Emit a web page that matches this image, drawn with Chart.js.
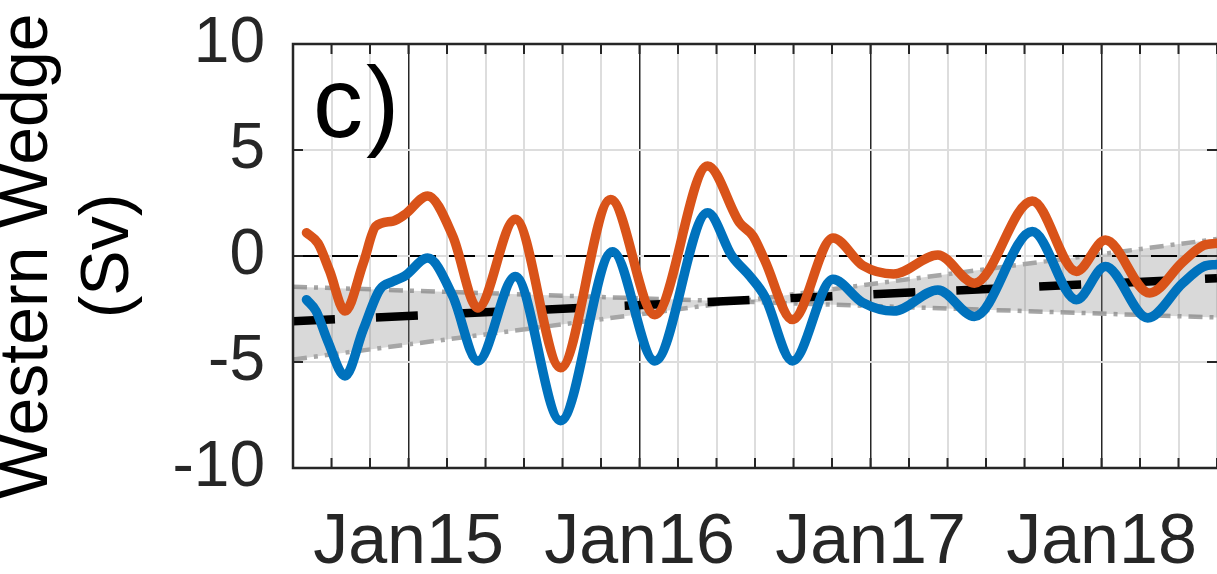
<!DOCTYPE html>
<html>
<head>
<meta charset="utf-8">
<script src="https://cdn.jsdelivr.net/npm/chart.js@4.4.0/dist/chart.umd.min.js"></script>
<style>
  html, body { margin: 0; padding: 0; background: #fff; }
  canvas { display: block; }
</style>
</head>
<body>
<canvas id="wedgeChart" width="1217" height="574"></canvas>
<script>
// DATOS (meses contados desde jul 2014)
const gridMonths = [0, 2, 4, 6, 8, 10, 12, 14, 16, 18, 20, 22, 24, 26, 28, 30, 32, 34, 36, 38, 40, 42, 44, 46, 48];
const tickMonths = [6, 18, 30, 42];
const tickLabels = ['Jan15', 'Jan16', 'Jan17', 'Jan18'];
const yTicks = [-10, -5, 0, 5, 10];

// serie naranja
const orangeMonths = [0.7, 1.3, 1.9, 2.7, 3.65, 4.3, 5.2, 5.8, 7.0, 8.3, 9.6, 11.55, 13.9, 16.5, 18.8, 21.54, 23.2, 23.9, 24.5, 25.95, 28.05, 29.6, 31.2, 33.5, 35.4, 38.4, 40.7, 42.2, 44.5, 46.2, 47.3, 48];
const orangeValues = [1.1, 0.6, -0.7, -2.6, -0.34, 1.4, 1.65, 1.95, 2.83, 0.94, -2.45, 1.73, -5.27, 2.67, -2.77, 4.25, 1.57, 0.94, -0.19, -3.0, 0.85, -0.45, -0.85, 0.05, -1.28, 2.6, -0.73, 0.75, -1.75, -0.3, 0.5, 0.6];

// serie azul
const blueMonths = [0.7, 1.2, 1.8, 2.7, 3.65, 4.5, 5.2, 5.8, 7.0, 8.3, 9.6, 11.55, 13.9, 16.6, 18.8, 21.54, 22.8, 23.75, 24.5, 25.95, 28.05, 29.6, 31.2, 33.5, 35.4, 38.4, 40.7, 42.2, 44.4, 46.2, 47.3, 48];
const blueValues = [-2.06, -2.6, -4.0, -5.66, -3.47, -1.6, -1.2, -0.95, -0.1, -1.9, -4.95, -0.97, -7.77, 0.2, -4.95, 2.04, 0.0, -0.97, -1.9, -4.95, -1.1, -2.2, -2.6, -1.6, -2.85, 1.15, -2.06, -0.5, -2.92, -1.3, -0.5, -0.4];

// tendencia y banda de confianza
const trendMonths = [0, 48];
const trendValues = [-3.08, -1.05];
const bandSlowValues = [-1.45, -2.9];
const bandFastValues = [-4.88, 0.8];
const zeroValues = [0, 0];

const toPoints = (xs, ys) => xs.map((x, i) => ({ x: x, y: ys[i] }));

const INK = '#262626';
const GRID = '#dddddd';

// marco, ticks hacia dentro y etiqueta del panel
const framePlugin = {
    id: 'frame',
    afterDraw(chart) {
        const { ctx, chartArea: a, scales } = chart;
        ctx.save();
        ctx.strokeStyle = INK;
        ctx.lineWidth = 2.5;
        ctx.beginPath();
        ctx.moveTo(a.right, a.top);
        ctx.lineTo(a.left, a.top);
        ctx.lineTo(a.left, a.bottom);
        ctx.lineTo(a.right, a.bottom);
        ctx.stroke();

        ctx.lineWidth = 2;
        ctx.beginPath();
        gridMonths.forEach(m => {
            const px = scales.x.getPixelForValue(m);
            ctx.moveTo(px, a.top); ctx.lineTo(px, a.top + 10);
            ctx.moveTo(px, a.bottom); ctx.lineTo(px, a.bottom - 10);
        });
        yTicks.forEach(v => {
            const py = scales.y.getPixelForValue(v);
            ctx.moveTo(a.left, py); ctx.lineTo(a.left + 10, py);
            ctx.moveTo(a.right, py); ctx.lineTo(a.right - 10, py);
        });
        ctx.stroke();

        ctx.fillStyle = '#000';
        ctx.font = '100px "Liberation Sans"';
        ctx.textBaseline = 'alphabetic';
        ctx.fillText('c', 313, 137);
        ctx.fillText(')', 366, 137);
        ctx.restore();
    }
};

const dashDot = [14, 7, 4, 7];

const ctx = document.getElementById('wedgeChart').getContext('2d');
const wedgeChart = new Chart(ctx, {
    type: 'line',
    data: {
        datasets: [{
            label: 'Banda (pendiente baja)',
            data: toPoints(trendMonths, bandSlowValues),
            borderColor: '#a6a6a6',
            borderWidth: 4.5,
            borderDash: dashDot,
            pointRadius: 0,
            fill: false,
            order: 5
        }, {
            label: 'Banda (pendiente alta)',
            data: toPoints(trendMonths, bandFastValues),
            borderColor: '#a6a6a6',
            borderWidth: 4.5,
            borderDash: dashDot,
            backgroundColor: 'rgba(128, 128, 128, 0.3)',
            pointRadius: 0,
            fill: '-1',
            order: 4
        }, {
            label: 'Tendencia',
            data: toPoints(trendMonths, trendValues),
            borderColor: '#000',
            borderWidth: 8.5,
            borderDash: [42, 41],
            pointRadius: 0,
            fill: false,
            order: 3
        }, {
            label: 'Cero',
            data: toPoints(trendMonths, zeroValues),
            borderColor: '#000',
            borderWidth: 2,
            borderDash: [26, 13],
            pointRadius: 0,
            fill: false,
            order: 2
        }, {
            label: 'Naranja',
            data: toPoints(orangeMonths, orangeValues),
            borderColor: '#D95319',
            borderWidth: 9.5,
            borderCapStyle: 'round',
            borderJoinStyle: 'round',
            cubicInterpolationMode: 'monotone',
            pointRadius: 0,
            fill: false,
            order: 1
        }, {
            label: 'Azul',
            data: toPoints(blueMonths, blueValues),
            borderColor: '#0072BD',
            borderWidth: 9.5,
            borderCapStyle: 'round',
            borderJoinStyle: 'round',
            cubicInterpolationMode: 'monotone',
            pointRadius: 0,
            fill: false,
            order: 0
        }]
    },
    options: {
        responsive: false,
        animation: false,
        layout: { padding: { top: 44, right: 0, bottom: 0, left: 0 } },
        plugins: {
            legend: { display: false },
            tooltip: { enabled: false }
        },
        scales: {
            x: {
                type: 'linear',
                min: 0,
                max: 48,
                afterFit: s => {
                    s.height = 106;
                    s.paddingLeft = 0;
                    s.paddingRight = 0;
                },
                afterBuildTicks: s => { s.ticks = gridMonths.map(m => ({ value: m })); },
                ticks: {
                    autoSkip: false,
                    maxRotation: 0,
                    padding: 34,
                    color: INK,
                    font: { family: 'Liberation Sans', size: 70 },
                    callback: v => {
                        const i = tickMonths.indexOf(v);
                        return i >= 0 ? tickLabels[i] : '';
                    }
                },
                grid: {
                    color: c => tickMonths.includes(c.tick.value) ? INK : GRID,
                    lineWidth: c => tickMonths.includes(c.tick.value) ? 1.5 : 2,
                    drawTicks: false
                },
                border: { display: false }
            },
            y: {
                min: -10,
                max: 10,
                afterFit: s => {
                    s.width = 293;
                    s.paddingTop = 0;
                    s.paddingBottom = 0;
                },
                afterBuildTicks: s => { s.ticks = yTicks.map(v => ({ value: v })); },
                ticks: {
                    padding: 28,
                    color: INK,
                    font: { family: 'Liberation Sans', size: 64 }
                },
                grid: { color: GRID, lineWidth: 2, drawTicks: false },
                border: { display: false },
                title: {
                    display: true,
                    text: ['Western Wedge', '(Sv)'],
                    color: '#000',
                    font: { family: 'Liberation Sans', size: 68 },
                    padding: { top: -13, bottom: 0 }
                }
            }
        }
    },
    plugins: [framePlugin]
});
</script>
</body>
</html>
